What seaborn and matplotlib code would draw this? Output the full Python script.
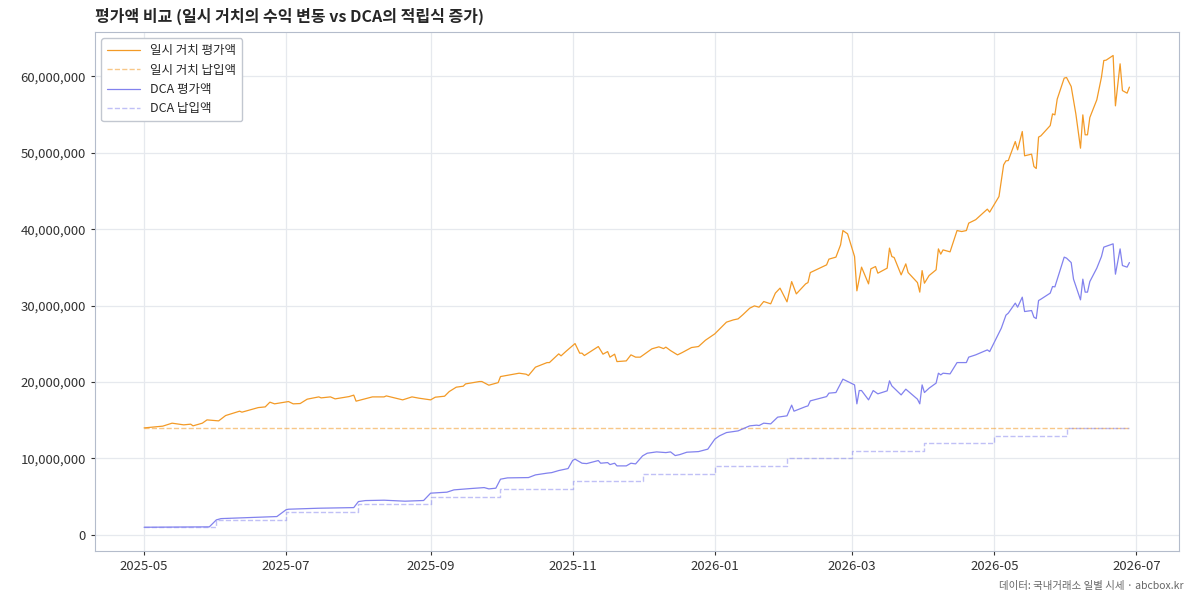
import pandas as pd
import matplotlib.pyplot as plt
import matplotlib.dates as mdates
from matplotlib.ticker import FuncFormatter
import seaborn as sns

START = "2025-05-01"
END_DAY = 423

# 일시 거치 평가액 (day offset from START, value in million KRW)
LUMP_DAYS = [0, 8, 12, 17, 20, 21, 25, 27, 32, 35, 39, 41, 42, 49, 52, 54, 56, 62, 64, 67,
             70, 75, 76, 80, 82, 88, 90, 91, 98, 103, 104, 111, 115, 118, 123, 125, 129, 131, 134, 137,
             138, 144, 145, 148, 152, 153, 161, 164, 165, 168, 173, 174, 176, 178, 179, 181, 185, 187, 188, 189,
             195, 197, 199, 200, 202, 203, 207, 209, 211, 213, 216, 218, 221, 223, 224, 226, 229, 231, 235, 238,
             241, 245, 250, 253, 255, 257, 260, 262, 264, 266, 269, 271, 273, 276, 278, 280, 284, 285, 286, 293,
             294, 297, 299, 300, 302, 305, 306, 308, 311, 312, 314, 315, 319, 320, 321, 322, 325, 327, 328, 332,
             333, 334, 335, 337, 340, 341, 342, 343, 346, 349, 351, 353, 354, 357, 362, 363, 367, 369, 370, 371,
             374, 375, 377, 378, 381, 382, 383, 384, 385, 389, 390, 391, 392, 395, 396, 398, 400, 402, 403, 404,
             405, 406, 409, 411, 412, 413, 416, 417, 419, 420, 422, 423]
LUMP_VALUES = [14.00, 14.23, 14.62, 14.40, 14.49, 14.27, 14.62, 15.05, 14.92, 15.62, 16.01, 16.19, 16.06, 16.66, 16.75, 17.37, 17.15, 17.45, 17.15, 17.19,
               17.76, 18.06, 17.93, 18.06, 17.80, 18.10, 18.29, 17.50, 18.06, 18.06, 18.19, 17.67, 18.06, 17.89, 17.67, 18.02, 18.15, 18.76, 19.33, 19.46,
               19.76, 20.07, 20.07, 19.59, 19.93, 20.72, 21.16, 21.03, 20.85, 21.95, 22.55, 22.55, 23.13, 23.69, 23.43, 23.99, 25.04, 23.78, 23.78, 23.47,
               24.65, 23.65, 23.99, 23.26, 23.65, 22.68, 22.77, 23.56, 23.26, 23.26, 23.91, 24.35, 24.61, 24.38, 24.57, 24.12, 23.56, 23.86, 24.52, 24.65,
               25.48, 26.31, 27.84, 28.14, 28.27, 28.80, 29.67, 29.97, 29.80, 30.54, 30.24, 31.64, 32.29, 30.50, 33.15, 31.54, 32.85, 33.02, 34.33, 35.34,
               36.09, 36.35, 37.96, 39.83, 39.40, 36.43, 31.94, 35.04, 32.85, 34.82, 35.12, 34.25, 34.91, 37.53, 36.43, 36.30, 34.03, 35.47, 34.33, 33.02,
               31.77, 34.59, 32.94, 33.94, 34.69, 37.43, 36.74, 37.30, 37.04, 39.83, 39.70, 39.83, 40.80, 41.25, 42.63, 42.24, 44.28, 48.43, 48.95, 48.99,
               51.48, 50.39, 52.79, 49.61, 49.83, 48.21, 47.95, 52.06, 52.23, 53.57, 55.10, 54.97, 57.03, 59.78, 59.86, 58.68, 55.10, 50.61, 54.97, 52.36,
               52.36, 54.62, 56.94, 59.91, 62.08, 62.13, 62.74, 56.15, 61.65, 58.15, 57.81, 58.60]

# DCA 평가액
DCA_DAYS = [0, 28, 31, 33, 57, 61, 62, 75, 90, 92, 95, 103, 112, 120, 123, 130, 133, 140, 146, 148,
            151, 153, 156, 165, 168, 173, 175, 178, 182, 184, 185, 188, 190, 195, 196, 199, 200, 202, 203, 207,
            209, 211, 214, 216, 220, 224, 226, 228, 230, 233, 238, 242, 245, 247, 250, 255, 258, 260, 263, 264,
            266, 269, 272, 276, 278, 279, 284, 285, 286, 293, 294, 297, 300, 305, 306, 307, 308, 311, 313, 315,
            319, 320, 321, 325, 327, 329, 332, 333, 334, 335, 337, 340, 341, 342, 343, 346, 349, 353, 354, 357,
            362, 363, 368, 370, 371, 374, 375, 377, 378, 381, 382, 383, 384, 385, 389, 390, 391, 395, 396, 398,
            399, 402, 403, 404, 405, 406, 409, 411, 412, 416, 417, 419, 420, 422, 423]
DCA_VALUES = [1.00, 1.05, 1.96, 2.13, 2.40, 3.30, 3.36, 3.49, 3.57, 4.36, 4.49, 4.54, 4.41, 4.50, 5.46, 5.59, 5.89, 6.06, 6.19, 6.02,
              6.11, 7.29, 7.46, 7.50, 7.85, 8.08, 8.15, 8.42, 8.68, 9.75, 9.91, 9.38, 9.33, 9.73, 9.38, 9.46, 9.20, 9.38, 9.03, 9.03,
              9.38, 9.29, 10.34, 10.69, 10.86, 10.77, 10.86, 10.38, 10.51, 10.82, 10.90, 11.22, 12.53, 12.96, 13.39, 13.61, 14.01, 14.27, 14.36, 14.31,
              14.62, 14.53, 15.41, 15.58, 16.98, 16.19, 16.79, 16.88, 17.54, 18.10, 18.55, 18.63, 20.38, 19.63, 17.15, 18.89, 18.89, 17.67, 18.89, 18.46,
              18.85, 20.16, 19.50, 18.32, 19.07, 18.55, 17.76, 17.15, 19.63, 18.63, 19.20, 19.86, 21.16, 20.94, 21.16, 21.07, 22.55, 22.55, 23.26, 23.56,
              24.21, 23.99, 27.05, 28.76, 29.02, 30.33, 29.80, 31.11, 29.23, 29.36, 28.49, 28.31, 30.67, 30.85, 31.64, 32.50, 32.46, 36.35, 36.22, 35.64,
              33.47, 30.76, 33.47, 31.77, 31.77, 33.15, 34.91, 36.43, 37.66, 38.09, 34.12, 37.43, 35.25, 35.04, 35.64]

# 납입액
LUMP_PAID = 14.0
DCA_PAY_MONTHS = ["2025-05-01", "2025-06-01", "2025-07-01", "2025-08-01", "2025-09-01", "2025-10-01", "2025-11-01",
                  "2025-12-01", "2026-01-01", "2026-02-01", "2026-03-01", "2026-04-01", "2026-05-01", "2026-06-01"]
DCA_PAID = [1, 2, 3, 4, 5, 6, 7, 8, 9, 10, 11, 12, 13, 14]

C_LUMP = "#F39A26"
C_DCA = "#8282EE"

start = pd.Timestamp(START)
end = start + pd.Timedelta(days=END_DAY)
lump = pd.DataFrame({"date": start + pd.to_timedelta(LUMP_DAYS, unit="D"),
                     "value": [v * 1e6 for v in LUMP_VALUES]})
dca = pd.DataFrame({"date": start + pd.to_timedelta(DCA_DAYS, unit="D"),
                    "value": [v * 1e6 for v in DCA_VALUES]})
lump_paid = pd.DataFrame({"date": [start, end], "value": [LUMP_PAID * 1e6] * 2})
dca_paid = pd.DataFrame({"date": pd.to_datetime(DCA_PAY_MONTHS + [str(end.date())]),
                         "value": [v * 1e6 for v in DCA_PAID + [DCA_PAID[-1]]]})

sns.set_style("whitegrid")
plt.rcParams["font.family"] = ["Noto Sans CJK KR", "DejaVu Sans"]

fig, ax = plt.subplots(figsize=(11.93, 6.02), dpi=100)
fig.subplots_adjust(left=0.0795, right=0.988, top=0.947, bottom=0.085)

sns.lineplot(data=lump, x="date", y="value", ax=ax, color=C_LUMP, linewidth=0.9, label="일시 거치 평가액")
sns.lineplot(data=lump_paid, x="date", y="value", ax=ax, color=C_LUMP, alpha=0.55, linewidth=1.0,
             linestyle="--", label="일시 거치 납입액")
sns.lineplot(data=dca, x="date", y="value", ax=ax, color=C_DCA, linewidth=0.9, label="DCA 평가액")
sns.lineplot(data=dca_paid, x="date", y="value", ax=ax, color=C_DCA, alpha=0.5, linewidth=1.0,
             linestyle="--", drawstyle="steps-post", label="DCA 납입액")

ax.xaxis.set_major_locator(mdates.MonthLocator(bymonth=[1, 3, 5, 7, 9, 11]))
ax.xaxis.set_major_formatter(mdates.DateFormatter("%Y-%m"))
ax.yaxis.set_major_formatter(FuncFormatter(lambda v, p: f"{v:,.0f}"))
ax.set_xlabel("")
ax.set_ylabel("")
ax.tick_params(axis="both", labelsize=9.5, colors="#333333", length=3, width=0.8, left=True, bottom=True)
ax.grid(color="#e6e9ee", linewidth=0.9)
for s in ax.spines.values():
    s.set_color("#b4bccb")
    s.set_linewidth(0.8)

ax.set_title("평가액 비교 (일시 거치의 수익 변동 vs DCA의 적립식 증가)", loc="left",
             fontsize=11.5, fontweight="bold", pad=7)
leg = ax.legend(loc="upper left", fontsize=9, frameon=True, fancybox=True, framealpha=1,
                edgecolor="#c2c7d0", handlelength=2.6, borderpad=0.5, labelspacing=0.5)
fig.text(0.992, 0.018, "데이터: 국내거래소 일별 시세 · abcbox.kr", ha="right", va="bottom",
         fontsize=7.5, color="#666666")

plt.savefig("out.png", dpi=100)
